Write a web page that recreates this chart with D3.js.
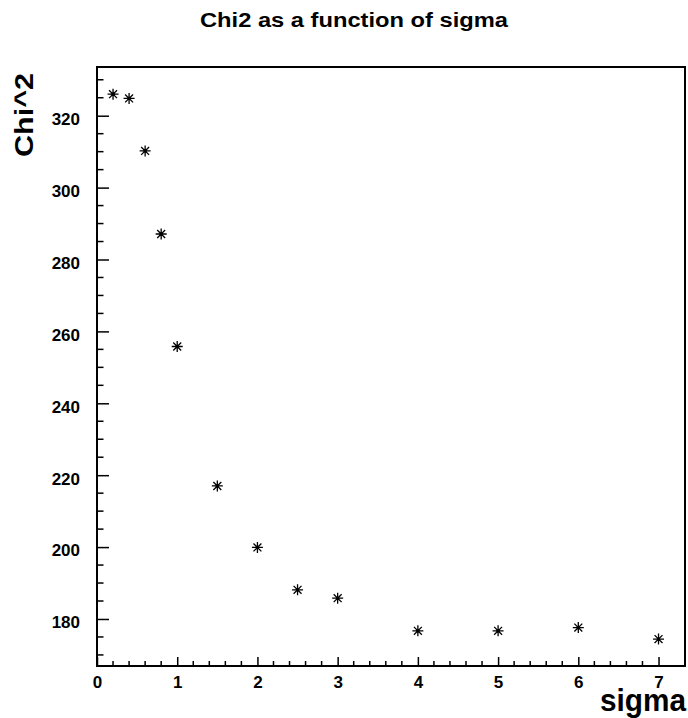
<!DOCTYPE html>
<html>
<head>
<meta charset="utf-8">
<script src="https://cdn.jsdelivr.net/npm/d3@7"></script>
<style>
  html, body { margin: 0; padding: 0; background: #fff; }
  svg { display: block; }
  text { font-family: "Liberation Sans", Arial, Helvetica, sans-serif; fill: #000; }
</style>
</head>
<body>
<svg id="chart" width="688" height="718"></svg>
<script>
// Chi2 values of the fit for each smearing width sigma
const sigma = [0.2, 0.4, 0.6, 0.8, 1.0, 1.5, 2.0, 2.5, 3.0, 4.0, 5.0, 6.0, 7.0];
const chi2  = [326.0, 324.8, 310.2, 287.1, 255.8, 217.0, 199.9, 188.1, 185.8, 176.7, 176.7, 177.6, 174.4];

const xTickLabels = ["0", "1", "2", "3", "4", "5", "6", "7"];
const yTickLabels = ["180", "200", "220", "240", "260", "280", "300", "320"];

const titleText = "Chi2 as a function of sigma";
const xTitle = "sigma";
const yTitle = "Chi^2";

const frame = { left: 97, right: 685, top: 67, bottom: 666 };
const xDomain = [0, 7.33];
const yDomain = [166.92, 333.55];

const svg = d3.select("#chart");

const x = d3.scaleLinear().domain(xDomain).range([frame.left, frame.right]);
const y = d3.scaleLinear().domain(yDomain).range([frame.bottom, frame.top]);

// Minor tick positions (every 0.2 in sigma, every 5 in chi2)
const xMinor = d3.range(0, 36).map(i => +(i * 0.2).toFixed(2))
  .filter(v => v <= xDomain[1] && Math.abs(v - Math.round(v)) > 1e-6);
const yMinor = d3.range(170, 335, 5).filter(v => v % 20 !== 0 && v <= yDomain[1]);

// X axis: ticks pointing into the frame
const xAxis = d3.axisBottom(x)
  .tickValues(xTickLabels.map(Number))
  .tickFormat((d, i) => xTickLabels[i])
  .tickSizeInner(-9).tickSizeOuter(0).tickPadding(0);

const gx = svg.append("g").attr("transform", `translate(0,${frame.bottom})`).call(xAxis);
gx.select(".domain").remove();
gx.selectAll(".tick line").attr("stroke", "#000").attr("stroke-width", 1.5);
gx.selectAll(".tick text")
  .attr("y", 21.5).attr("dy", null)
  .style("font-size", "17px").style("font-weight", "bold");

gx.selectAll(".minor").data(xMinor).enter().append("line")
  .attr("class", "minor")
  .attr("x1", d => x(d)).attr("x2", d => x(d))
  .attr("y1", 0).attr("y2", -5)
  .attr("stroke", "#000").attr("stroke-width", 1.5);

// Y axis
const yAxis = d3.axisLeft(y)
  .tickValues(yTickLabels.map(Number))
  .tickFormat((d, i) => yTickLabels[i])
  .tickSizeInner(-12).tickSizeOuter(0).tickPadding(0);

const gy = svg.append("g").attr("transform", `translate(${frame.left},0)`).call(yAxis);
gy.select(".domain").remove();
gy.selectAll(".tick line").attr("stroke", "#000").attr("stroke-width", 1.5);
gy.selectAll(".tick text")
  .attr("x", -17).attr("dy", "0.52em")
  .style("font-size", "17px").style("font-weight", "bold");

gy.selectAll(".minor").data(yMinor).enter().append("line")
  .attr("class", "minor")
  .attr("x1", 0).attr("x2", 6.5)
  .attr("y1", d => y(d)).attr("y2", d => y(d))
  .attr("stroke", "#000").attr("stroke-width", 1.5);

// Frame
svg.append("rect")
  .attr("x", frame.left).attr("y", frame.top)
  .attr("width", frame.right - frame.left)
  .attr("height", frame.bottom - frame.top)
  .attr("fill", "none").attr("stroke", "#000").attr("stroke-width", 2);

// Eight-armed star marker
const starSymbol = {
  draw(ctx, size) {
    const r = Math.sqrt(size) / 2;
    const d = r * 0.72;
    ctx.moveTo(-r, 0); ctx.lineTo(r, 0);
    ctx.moveTo(0, -r); ctx.lineTo(0, r);
    ctx.moveTo(-d, -d); ctx.lineTo(d, d);
    ctx.moveTo(-d, d); ctx.lineTo(d, -d);
  }
};

const points = sigma.map((s, i) => ({ s, c: chi2[i] }));
const gp = svg.append("g");
gp.selectAll("path.star").data(points).enter().append("path")
  .attr("class", "star")
  .attr("transform", d => `translate(${x(d.s)},${y(d.c)})`)
  .attr("d", d3.symbol().type(starSymbol).size(121))
  .attr("fill", "none").attr("stroke", "#000").attr("stroke-width", 1.3);
gp.selectAll("circle.core").data(points).enter().append("circle")
  .attr("class", "core")
  .attr("cx", d => x(d.s)).attr("cy", d => y(d.c))
  .attr("r", 1.6).attr("fill", "#000");

// Titles
svg.append("text")
  .attr("x", 354).attr("y", 27)
  .attr("text-anchor", "middle")
  .attr("textLength", 308).attr("lengthAdjust", "spacingAndGlyphs")
  .style("font-size", "19.5px").style("font-weight", "bold")
  .text(titleText);

svg.append("text")
  .attr("x", 686).attr("y", 711)
  .attr("text-anchor", "end")
  .attr("textLength", 86).attr("lengthAdjust", "spacingAndGlyphs")
  .style("font-size", "31px").style("font-weight", "bold")
  .text(xTitle);

svg.append("text")
  .attr("transform", "translate(33,157) rotate(-90)")
  .attr("text-anchor", "start")
  .attr("textLength", 84).attr("lengthAdjust", "spacingAndGlyphs")
  .style("font-size", "25.5px").style("font-weight", "bold")
  .text(yTitle);
</script>
</body>
</html>
